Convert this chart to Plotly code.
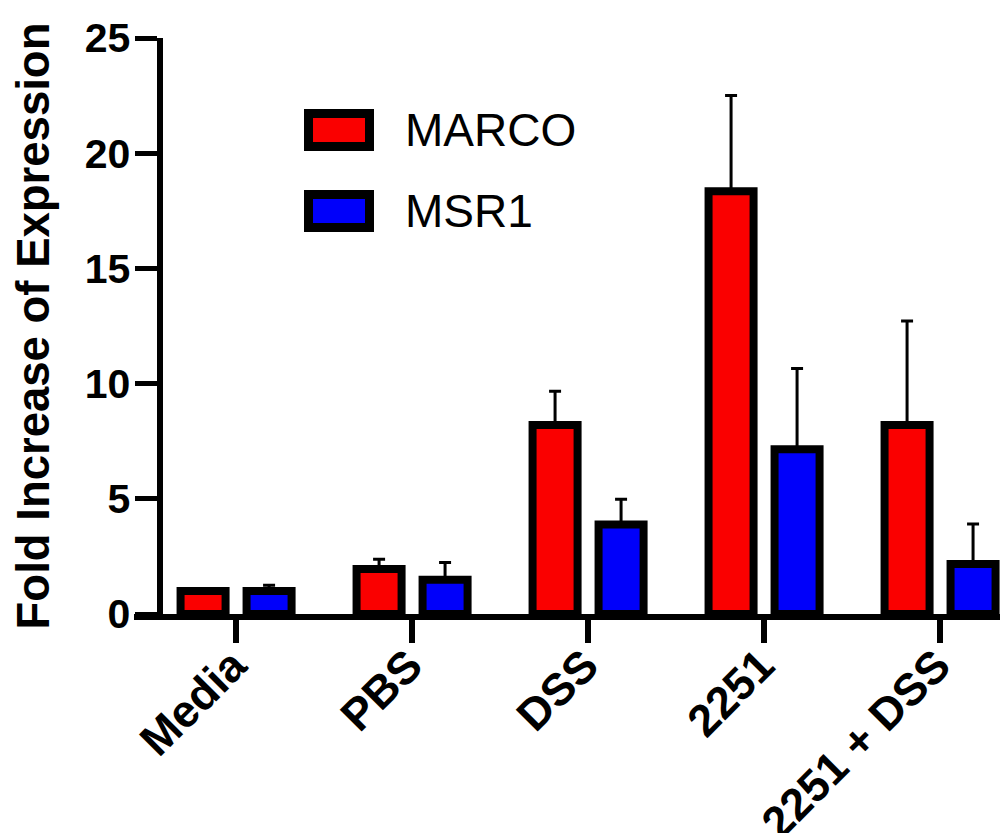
import plotly.graph_objects as go

# ---- data ----
categories = ["Media", "PBS", "DSS", "2251", "2251 + DSS"]
series_names = ["MARCO", "MSR1"]
marco_mean = [1.0, 1.95, 8.2, 18.35, 8.2]
marco_sd = [0.05, 0.43, 1.47, 4.15, 4.52]
msr1_mean = [1.0, 1.49, 3.88, 7.15, 2.17]
msr1_sd = [0.25, 0.74, 1.1, 3.5, 1.74]
y_ticks = [0, 5, 10, 15, 20, 25]

# ---- style ----
colors = ["#FA0000", "#0000FA"]
FONT = "Arial, 'Liberation Sans', Helvetica, sans-serif"
PAGE_OFF = 8  # default body margin of the html page
W, H = 1008 - PAGE_OFF, 833 - PAGE_OFF
# plot area in screenshot pixels
PLOT_L, PLOT_R, PLOT_T, PLOT_B = 134, 1008, 38, 614
ML, MR = PLOT_L - PAGE_OFF, 1008 - PLOT_R
MT, MB = PLOT_T - PAGE_OFF, 833 - PLOT_B
PW, PH = PLOT_R - PLOT_L, PLOT_B - PLOT_T


def px_x(px):
    return (px - PLOT_L) / PW


def px_y(py):
    return (PLOT_B - py) / PH


fig = go.Figure()
for name, mean, sd, col in [
    (series_names[0], marco_mean, marco_sd, colors[0]),
    (series_names[1], msr1_mean, msr1_sd, colors[1]),
]:
    fig.add_trace(
        go.Bar(
            x=categories,
            y=mean,
            name=name,
            marker=dict(color=col, line=dict(color="black", width=8)),
            error_y=dict(
                type="data",
                symmetric=False,
                array=sd,
                arrayminus=[0] * len(sd),
                color="black",
                thickness=3,
                width=6,
            ),
            showlegend=False,
        )
    )

# manual legend (large swatches like the original)
legend_rows = [(series_names[0], colors[0], 130), (series_names[1], colors[1], 211)]
for name, col, cy in legend_rows:
    fig.add_shape(
        type="rect",
        xref="paper",
        yref="paper",
        x0=px_x(308.5),
        x1=px_x(369.5),
        y0=px_y(cy - 16.5),
        y1=px_y(cy + 16.5),
        fillcolor=col,
        line=dict(color="black", width=9),
        layer="above",
    )
    fig.add_annotation(
        xref="paper",
        yref="paper",
        x=px_x(403),
        y=px_y(cy),
        xanchor="left",
        yanchor="middle",
        text=name,
        showarrow=False,
        font=dict(family=FONT, size=46, color="black"),
    )

fig.update_layout(
    width=W,
    height=H,
    margin=dict(l=ML, r=MR, t=MT, b=MB, autoexpand=False),
    paper_bgcolor="white",
    plot_bgcolor="white",
    barmode="group",
    bargap=0.25,
    bargroupgap=0.318,
    font=dict(family=FONT, color="black"),
)
fig.update_xaxes(
    type="category",
    range=[-0.58, 4.386],
    showline=True,
    linecolor="black",
    linewidth=6,
    ticks="outside",
    ticklen=23,
    tickwidth=6,
    tickcolor="black",
    tickangle=-45,
    ticklabelstandoff=-22,
    ticklabelshift=-3,
    tickfont=dict(family=FONT, size=45, color="black", weight="bold"),
    showgrid=False,
    zeroline=False,
)
fig.update_yaxes(
    range=[0, 25],
    tickvals=y_ticks,
    anchor="free",
    position=px_x(159.5),
    showline=True,
    linecolor="black",
    linewidth=6,
    ticks="outside",
    ticklen=22,
    tickwidth=5,
    tickcolor="black",
    ticklabelstandoff=-4,
    tickfont=dict(family=FONT, size=41, color="black", weight="bold"),
    title=dict(
        text="Fold Increase of Expression",
        font=dict(family=FONT, size=45.5, color="black", weight="bold"),
        standoff=30,
    ),
    showgrid=False,
    zeroline=False,
)

fig.write_html("out.html")
